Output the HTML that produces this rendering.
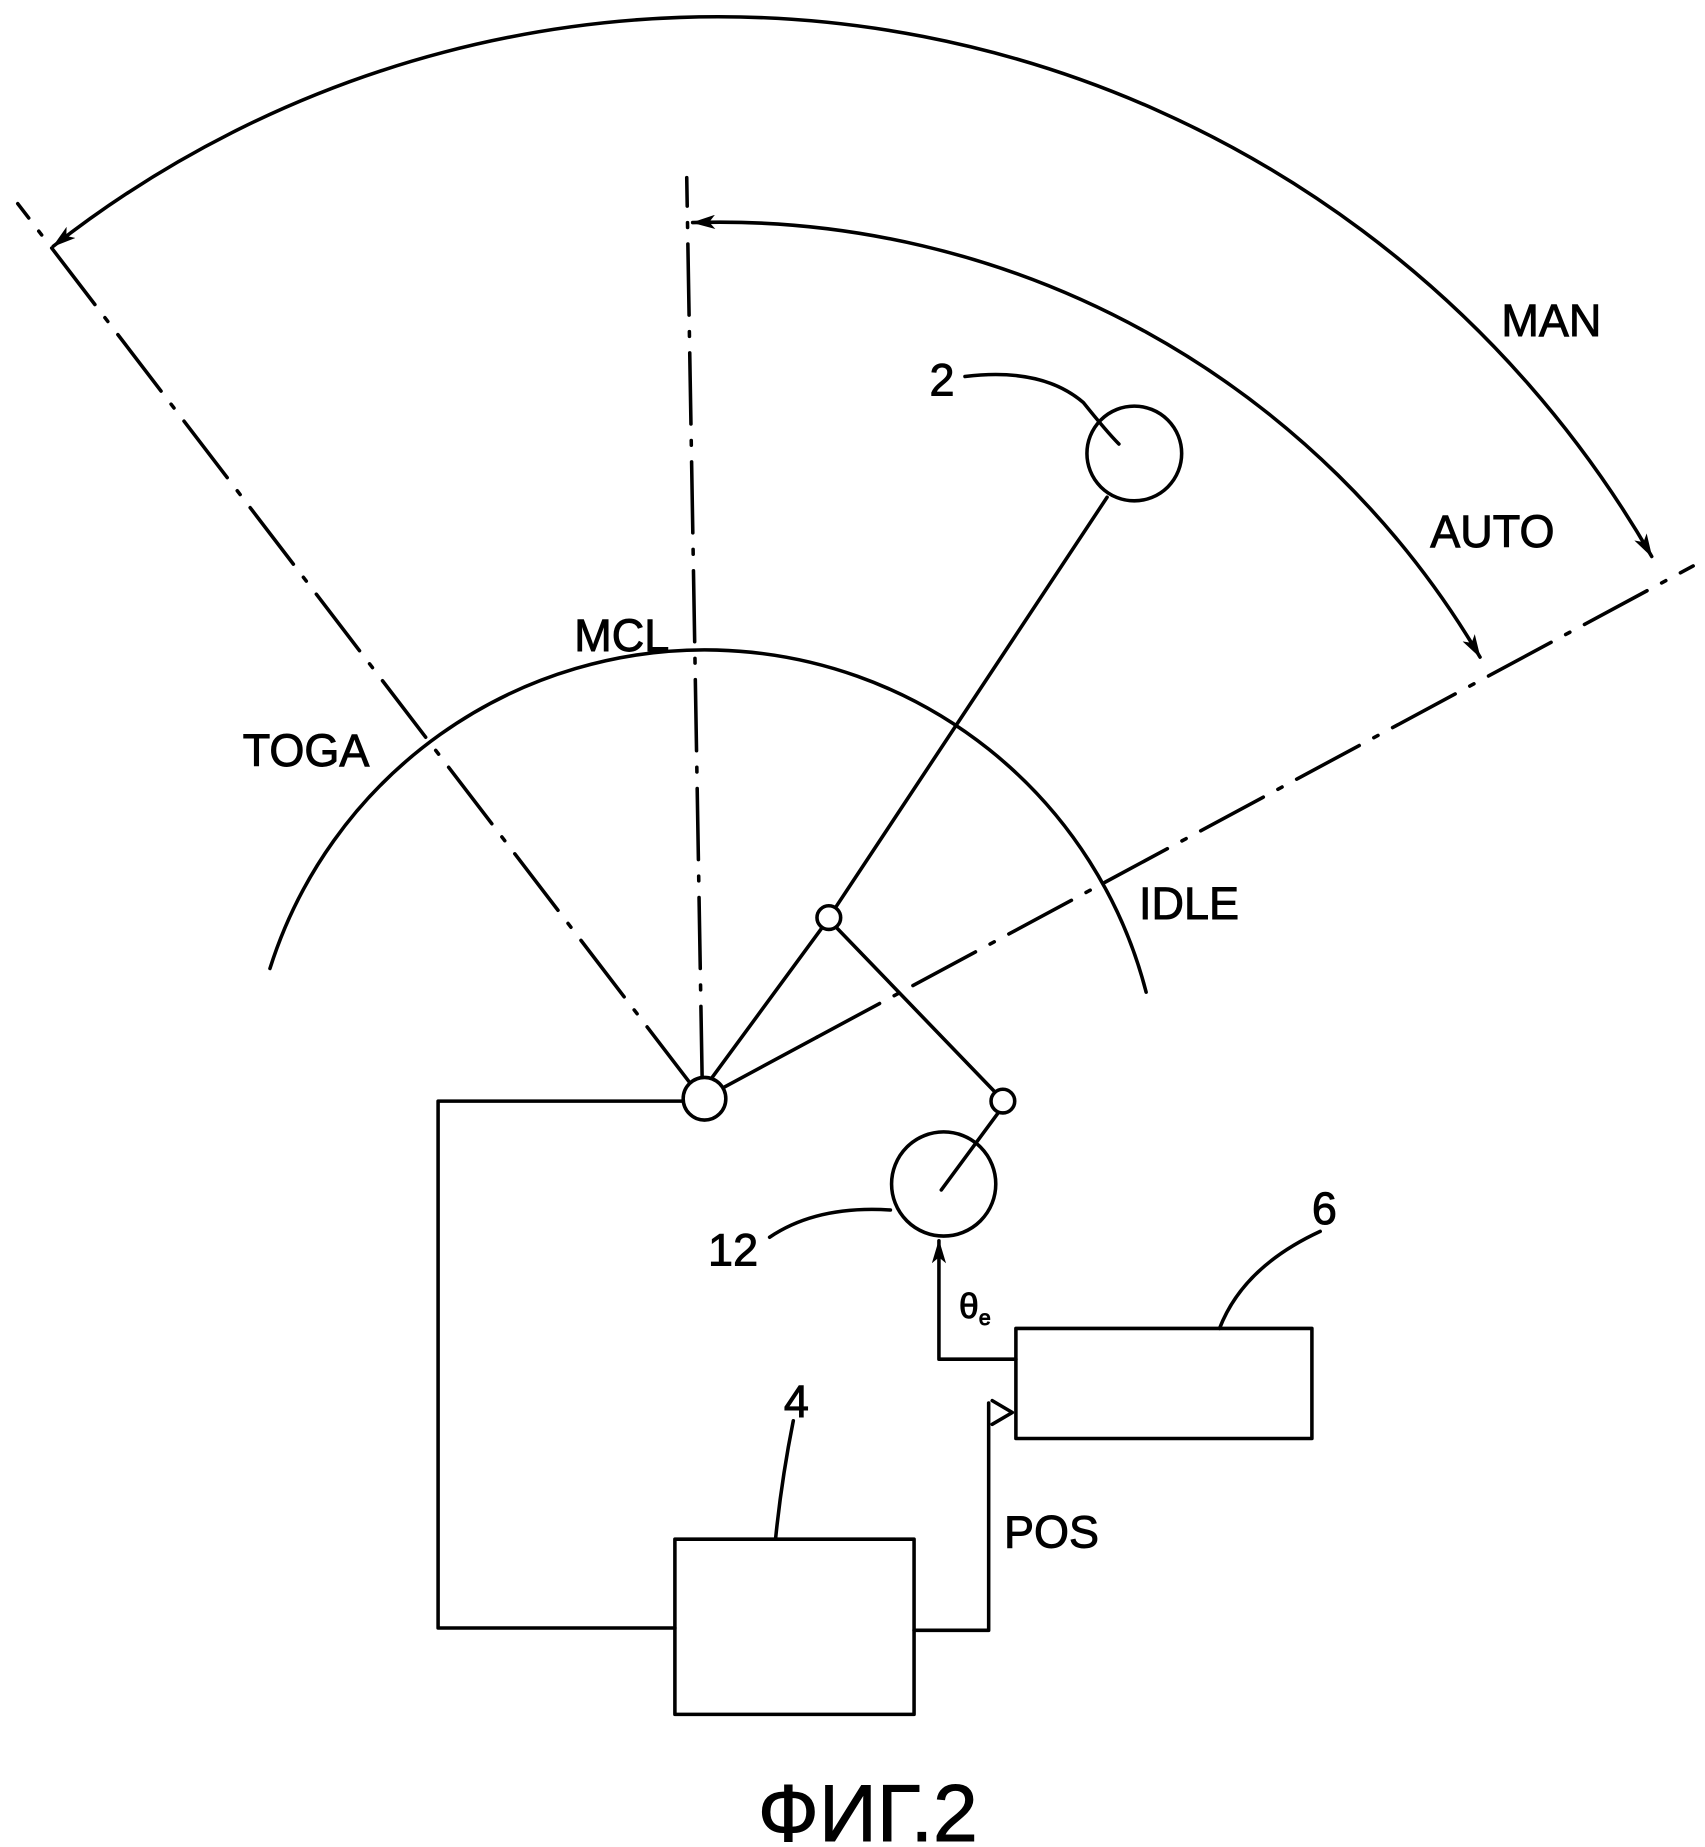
<!DOCTYPE html>
<html><head><meta charset="utf-8"><style>
html,body{margin:0;padding:0;background:#fff;}
svg{display:block;}
text{font-family:"Liberation Sans",sans-serif;fill:#000;stroke:#000;stroke-width:0.8;}
</style></head><body>
<svg width="1705" height="1847" viewBox="0 0 1440 1560" preserveAspectRatio="none" xmlns="http://www.w3.org/2000/svg">
<defs>
<marker id="ah" viewBox="0 0 20 12" refX="19" refY="6" markerWidth="20" markerHeight="12" markerUnits="userSpaceOnUse" orient="auto-start-reverse">
<path d="M0,0 L20,6 L0,12 L5,6 z" fill="#000"/>
</marker>
</defs>
<g fill="none" stroke="#000" stroke-width="3" stroke-linecap="round" stroke-linejoin="round">
<line x1="583" y1="915" x2="15" y2="172" stroke-dasharray="60,14,4,14"/>
<line x1="593" y1="910" x2="580" y2="150" stroke-dasharray="60,14,4,14"/>
<line x1="690" y1="876" x2="1430" y2="478" stroke-dasharray="60,14,4,14"/>
<path d="M228,818 A385,385 0 0 1 968,838"/>
<path d="M45,208 A910,910 0 0 1 1395,470" marker-start="url(#ah)" marker-end="url(#ah)"/>
<path d="M585,188 A745,745 0 0 1 1250,555" marker-start="url(#ah)" marker-end="url(#ah)"/>
<line x1="600" y1="912" x2="694" y2="784"/>
<line x1="706" y1="766" x2="935" y2="420"/>
<line x1="707" y1="784" x2="840" y2="922"/>
<line x1="843" y1="940" x2="795" y2="1005"/>
<line x1="612" y1="918" x2="690" y2="876"/>
<circle cx="595" cy="928" r="18" fill="#fff"/>
<circle cx="700" cy="775" r="10" fill="#fff"/>
<circle cx="847" cy="930" r="10" fill="#fff"/>
<circle cx="958" cy="383" r="40"/>
<circle cx="797" cy="1000" r="44"/>
<path d="M815,318 Q880,310 915,340 Q935,365 945,375"/>
<path d="M650,1045 Q690,1018 752,1022"/>
<path d="M1115,1040 Q1050,1070 1030,1122"/>
<path d="M670,1200 Q660,1250 655,1300"/>
<rect x="858" y="1122" width="250" height="93"/>
<rect x="570" y="1300" width="202" height="148"/>
<polyline points="577,930 370,930 370,1375 570,1375"/>
<polyline points="772,1377 835,1377 835,1185"/>
<polyline points="858,1148 793,1148 793,1048" marker-end="url(#ah)"/>
<path d="M838,1183 L855,1193 L838,1203"/>
</g>
<g font-size="38">
<text x="1268" y="284">MAN</text>
<text x="1208" y="462">AUTO</text>
<text x="485" y="550">MCL</text>
<text x="205" y="647">TOGA</text>
<text x="962" y="776">IDLE</text>
<text x="848" y="1307">POS</text>
<text x="785" y="334">2</text>
<text x="598" y="1069">12</text>
<text x="1108" y="1034">6</text>
<text x="662" y="1197">4</text>
<text x="810" y="1113" font-size="30">θ<tspan font-size="18" dy="6">e</tspan></text>
<text x="640" y="1555" font-size="68" stroke-width="0">ФИГ.2</text>
</g>
</svg>
</body></html>
